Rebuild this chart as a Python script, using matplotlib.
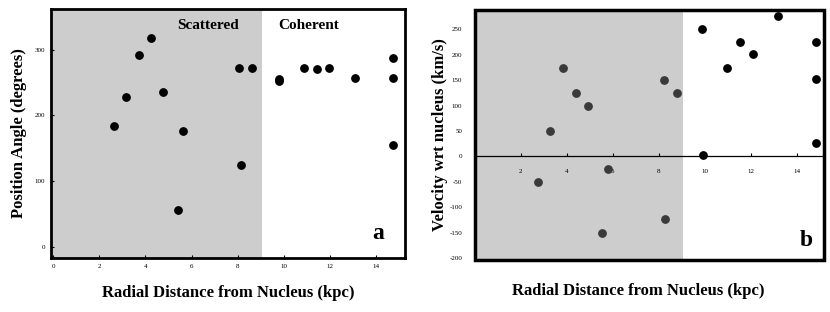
import matplotlib.pyplot as plt
from matplotlib.patches import Rectangle

plt.rcParams['font.family'] = ['Liberation Serif', 'DejaVu Serif']
plt.rcParams['axes.unicode_minus'] = False

# panel a: position angle vs radius
r_a = [2.64, 3.16, 3.70, 4.25, 4.78, 5.65, 5.40, 8.08, 8.13, 8.64,
       9.80, 9.80, 10.88, 11.43, 11.98, 13.09, 14.72, 14.72, 14.72]
pa_a = [184, 228, 292, 318, 236, 177, 56, 272, 124, 272,
        256, 252, 273, 270, 273, 257, 287, 257, 155]

# panel b: velocity vs radius (scattered then coherent)
r_b_sc = [2.75, 3.29, 3.83, 4.40, 4.93, 5.51, 5.77, 8.24, 8.27, 8.78]
v_b_sc = [-51, 50, 174, 125, 100, -150, -25, 150, -124, 125]
r_b_co = [9.89, 9.90, 10.97, 11.54, 12.08, 13.2, 14.82, 14.82, 14.82]
v_b_co = [250, 2, 174, 226, 201, 276, 226, 152, 26]

xticks = [0, 2, 4, 6, 8, 10, 12, 14]
yticks_a = [0, 100, 200, 300]
yticks_b = [-200, -150, -100, -50, 0, 50, 100, 150, 200, 250]
split = 9.06
shade = '#cdcdcd'

fig = plt.figure(figsize=(8.3, 3.12), dpi=100)

# ---- panel a
ax = fig.add_axes([0.0614, 0.173, 0.4265, 0.798])
ax.set_xlim(-0.1, 15.26)
ax.set_ylim(-17, 362)
ax.axvspan(-0.1, split, color=shade, lw=0, zorder=0)
ax.scatter(r_a, pa_a, s=28, color='black', zorder=3)
ax.set_xticks(xticks)
ax.set_yticks(yticks_a)
ax.tick_params(direction='in', length=2, width=0.8, labelsize=5, pad=4)
for s in ax.spines.values():
    s.set_linewidth(2)
ax.set_xlabel('Radial Distance from Nucleus (kpc)', fontsize=12,
              fontweight='bold', labelpad=12)
ax.set_ylabel('Position Angle (degrees)', fontsize=12, fontweight='bold',
              labelpad=6)
ax.text(split - 1.0, 337, 'Scattered', ha='right', va='center',
        fontsize=11, fontweight='bold')
ax.text(split + 0.7, 337, 'Coherent', ha='left', va='center',
        fontsize=11, fontweight='bold')
ax.text(14.1, 21, 'a', ha='center', va='center', fontsize=17,
        fontweight='bold')

# ---- panel b
bx = fig.add_axes([0.572, 0.1667, 0.4205, 0.801])
bx.set_xlim(0, 15.17)
bx.set_ylim(-204, 288)
bx.axvspan(0, split, color=shade, lw=0, zorder=0)
bx.scatter(r_b_sc, v_b_sc, s=28, color='#3a3a3a', zorder=3)
bx.scatter(r_b_co, v_b_co, s=28, color='black', zorder=3)
bx.set_xticks(xticks[1:])
bx.set_yticks(yticks_b)
bx.spines['bottom'].set_position(('data', 0))
bx.spines['bottom'].set_linewidth(0.9)
for k in ['top', 'right', 'left']:
    bx.spines[k].set_visible(False)
bx.add_patch(Rectangle((0, 0), 1, 1, transform=bx.transAxes, fill=False,
                       lw=2.5, ec='black', clip_on=False, zorder=5))
bx.tick_params(axis='x', direction='in', length=2, width=0.8, labelsize=5,
               pad=9)
bx.tick_params(axis='y', direction='in', length=0, labelsize=5, pad=9)
bx.set_ylabel('Velocity wrt nucleus (km/s)', fontsize=12,
              fontweight='bold', labelpad=1)
fig.text(0.769, 0.067, 'Radial Distance from Nucleus (kpc)', ha='center',
         va='center', fontsize=12, fontweight='bold')
bx.text(14.4, -165, 'b', ha='center', va='center', fontsize=17,
        fontweight='bold')

fig.savefig('out.png', dpi=100)
